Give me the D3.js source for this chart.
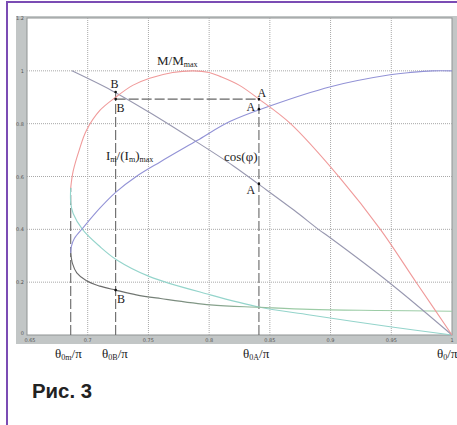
<!DOCTYPE html>
<html>
<head>
<meta charset="utf-8">
<script src="https://cdnjs.cloudflare.com/ajax/libs/d3/7.8.5/d3.min.js"></script>
<style>
  body { margin: 0; background: #fff; }
  svg { display: block; }
  .lbl { font-family: "Liberation Serif", "DejaVu Serif", serif; fill: #222; }
  .tick { font-family: "DejaVu Sans", sans-serif; font-size: 5px; fill: #555; }
</style>
</head>
<body>
<script>
// M/Mmax (red)
var torqueX = [0.686, 0.688, 0.693, 0.699, 0.71, 0.723, 0.737, 0.751, 0.77, 0.787, 0.80, 0.809, 0.825, 0.841, 0.867, 0.908, 0.941, 0.971, 1.0];
var torqueY = [0.557, 0.62, 0.70, 0.775, 0.85, 0.90, 0.945, 0.972, 0.994, 1.0, 0.994, 0.979, 0.945, 0.893, 0.80, 0.593, 0.40, 0.196, 0.0];

// Im/(Im)max (grey-violet)
var currentX = [0.687, 0.72, 0.75, 0.79, 0.82, 0.841, 0.87, 0.89, 0.9, 0.949, 1.0];
var currentY = [1.0, 0.925, 0.845, 0.73, 0.64, 0.57, 0.472, 0.40, 0.367, 0.196, 0.0];

// cos(phi), upper branch (blue) from the nose
var cosUpX = [0.686, 0.6865, 0.689, 0.696, 0.71, 0.723, 0.74, 0.76, 0.79, 0.817, 0.85, 0.9, 0.949, 0.966, 0.984, 1.0];
var cosUpY = [0.31, 0.335, 0.365, 0.405, 0.48, 0.54, 0.60, 0.656, 0.736, 0.808, 0.867, 0.94, 0.985, 0.994, 1.0, 1.0];

// lower branch from the nose
var cosLowX = [0.686, 0.6875, 0.691, 0.699, 0.71, 0.723, 0.74, 0.76, 0.801, 0.842, 0.883, 0.94, 1.0];
var cosLowY = [0.31, 0.27, 0.235, 0.205, 0.185, 0.17, 0.152, 0.138, 0.114, 0.105, 0.097, 0.093, 0.09];

// cyan curve
var cyanX = [0.686, 0.686, 0.688, 0.696, 0.71, 0.724, 0.751, 0.801, 0.842, 0.883, 0.949, 1.0];
var cyanY = [0.557, 0.50, 0.46, 0.398, 0.335, 0.284, 0.221, 0.152, 0.105, 0.076, 0.031, 0.0];

var xTicks = [0.65, 0.7, 0.75, 0.8, 0.85, 0.9, 0.95, 1];
var xTickLabels = ["0.65", "0.7", "0.75", "0.8", "0.85", "0.9", "0.95", "1"];
var yTicks = [0, 0.2, 0.4, 0.6, 0.8, 1, 1.2];
var yTickLabels = ["0", "0.2", "0.4", "0.6", "0.8", "1", "1.2"];

// marked angles
var theta0m = 0.686, theta0B = 0.723, theta0A = 0.841, level = 0.893;
var markX = [0.723, 0.723, 0.723, 0.841, 0.841, 0.841];
var markY = [0.92, 0.893, 0.17, 0.893, 0.855, 0.572];

var width = 457, height = 425;

var svg = d3.select("body").append("svg")
    .attr("width", width)
    .attr("height", height);

var x = d3.scaleLinear().domain([0.65, 1]).range([27, 452]);
var y = d3.scaleLinear().domain([0, 1.2]).range([335, 18]);

// frame: grey bands
svg.append("rect")
    .attr("x", 16).attr("y", 16)
    .attr("width", 441).attr("height", 328)
    .attr("fill", "#c2c6c6");
svg.append("rect")
    .attr("x", x(0.65)).attr("y", y(1.2))
    .attr("width", x(1) - x(0.65)).attr("height", y(0) - y(1.2))
    .attr("fill", "#fff")
    .attr("stroke", "#8f9393")
    .attr("stroke-width", 1);

// grid
svg.append("g").selectAll("line")
    .data(xTicks.slice(1, -1))
  .enter().append("line")
    .attr("x1", function(d) { return x(d); })
    .attr("x2", function(d) { return x(d); })
    .attr("y1", y(0)).attr("y2", y(1.2))
    .attr("stroke", "#a8a8a8")
    .attr("stroke-dasharray", "1,1");

svg.append("g").selectAll("line")
    .data(yTicks.slice(1, -1))
  .enter().append("line")
    .attr("y1", function(d) { return y(d); })
    .attr("y2", function(d) { return y(d); })
    .attr("x1", x(0.65)).attr("x2", x(1))
    .attr("stroke", "#a8a8a8")
    .attr("stroke-dasharray", "1,1");

// tick labels
svg.append("g").selectAll("text")
    .data(xTicks)
  .enter().append("text")
    .attr("class", "tick")
    .attr("x", function(d, i) { return x(d) + (i === 0 ? 3 : 0); })
    .attr("y", 342)
    .attr("text-anchor", "middle")
    .text(function(d, i) { return xTickLabels[i]; });

svg.append("g").selectAll("text")
    .data(yTicks)
  .enter().append("text")
    .attr("class", "tick")
    .attr("x", 24)
    .attr("y", function(d, i) { return y(d) + (i === 0 ? 0 : 2); })
    .attr("text-anchor", "end")
    .text(function(d, i) { return yTickLabels[i]; });

// dashed helper lines
var dashes = [
  [theta0m, 0, theta0m, 0.557],
  [theta0B, 0, theta0B, 0.92],
  [theta0A, 0, theta0A, level],
  [theta0B, level, theta0A, level]
];
svg.append("g").selectAll("line")
    .data(dashes)
  .enter().append("line")
    .attr("x1", function(d) { return x(d[0]); })
    .attr("y1", function(d) { return y(d[1]); })
    .attr("x2", function(d) { return x(d[2]); })
    .attr("y2", function(d) { return y(d[3]); })
    .attr("stroke", "#666")
    .attr("stroke-width", 1.1)
    .attr("stroke-dasharray", "10,3");

// gradient for lower branch: dark grey near the nose, green to the right
var grad = svg.append("defs").append("linearGradient")
    .attr("id", "lowGrad")
    .attr("gradientUnits", "userSpaceOnUse")
    .attr("x1", x(0.72)).attr("x2", x(0.87))
    .attr("y1", 0).attr("y2", 0);
grad.append("stop").attr("offset", 0).attr("stop-color", "#6a6a6a");
grad.append("stop").attr("offset", 1).attr("stop-color", "#9ccca6");

var line = d3.line()
    .x(function(d) { return x(d[0]); })
    .y(function(d) { return y(d[1]); })
    .curve(d3.curveCatmullRom.alpha(0.5));

function zip(a, b) { return a.map(function(v, i) { return [v, b[i]]; }); }

var curves = [
  { pts: zip(cyanX, cyanY), color: "#94d4cb" },
  { pts: zip(cosLowX, cosLowY), color: "url(#lowGrad)" },
  { pts: zip(currentX, currentY), color: "#9898b0" },
  { pts: zip(cosUpX, cosUpY), color: "#9292d6" },
  { pts: zip(torqueX, torqueY), color: "#f09a9a" }
];

svg.append("g").selectAll("path")
    .data(curves)
  .enter().append("path")
    .attr("d", function(d) { return line(d.pts); })
    .attr("fill", "none")
    .attr("stroke", function(d) { return d.color; })
    .attr("stroke-width", 1.1);

// points
svg.append("g").selectAll("circle")
    .data(zip(markX, markY))
  .enter().append("circle")
    .attr("cx", function(d) { return x(d[0]); })
    .attr("cy", function(d) { return y(d[1]); })
    .attr("r", 1.3)
    .attr("fill", "#111");

// point labels
var pointLabels = [
  { t: "B", px: 110.5, py: 88 },
  { t: "B", px: 116.5, py: 112 },
  { t: "B", px: 117, py: 303 },
  { t: "A", px: 257.5, py: 97 },
  { t: "A", px: 246.5, py: 111 },
  { t: "A", px: 246.5, py: 194 }
];
svg.append("g").selectAll("text")
    .data(pointLabels)
  .enter().append("text")
    .attr("class", "lbl")
    .attr("x", function(d) { return d.px; })
    .attr("y", function(d) { return d.py; })
    .attr("font-size", 12)
    .text(function(d) { return d.t; });

// curve names
function subText(px, py, parts, size) {
  var t = svg.append("text")
      .attr("class", "lbl")
      .attr("x", px).attr("y", py)
      .attr("font-size", size);
  parts.forEach(function(p) {
    t.append("tspan")
      .attr("font-size", p.sub ? size * 0.62 : size)
      .attr("dy", p.dy || 0)
      .text(p.s);
  });
  return t;
}

subText(157, 65, [{ s: "M/M" }, { s: "max", sub: true, dy: 2 }], 13);
subText(106, 160, [{ s: "I" }, { s: "m", sub: true, dy: 2 }, { s: "/(I", dy: -2 }, { s: "m", sub: true, dy: 2 }, { s: ")", dy: -2 }, { s: "max", sub: true, dy: 2 }], 13);
subText(224, 161, [{ s: "cos(φ)" }], 13);

// x-axis angle labels
subText(55, 358, [{ s: "θ" }, { s: "0m", sub: true, dy: 2 }, { s: "/π", dy: -2 }], 13);
subText(102, 358, [{ s: "θ" }, { s: "0B", sub: true, dy: 2 }, { s: "/π", dy: -2 }], 13);
subText(243, 358, [{ s: "θ" }, { s: "0A", sub: true, dy: 2 }, { s: "/π", dy: -2 }], 13);
subText(437, 358, [{ s: "θ" }, { s: "0", sub: true, dy: 2 }, { s: "/π", dy: -2 }], 13);

// caption
svg.append("text")
    .attr("x", 32).attr("y", 398)
    .attr("font-family", "'Liberation Sans Narrow', 'Liberation Sans', Arial, sans-serif")
    .attr("font-weight", "bold")
    .attr("font-size", 21)
    .attr("textLength", 60)
    .attr("lengthAdjust", "spacingAndGlyphs")
    .attr("fill", "#222")
    .text("Рис. 3");

// purple page border
svg.append("path")
    .attr("d", "M7,425V2H457")
    .attr("fill", "none")
    .attr("stroke", "#7b4cb4")
    .attr("stroke-width", 2);
</script>
</body>
</html>
